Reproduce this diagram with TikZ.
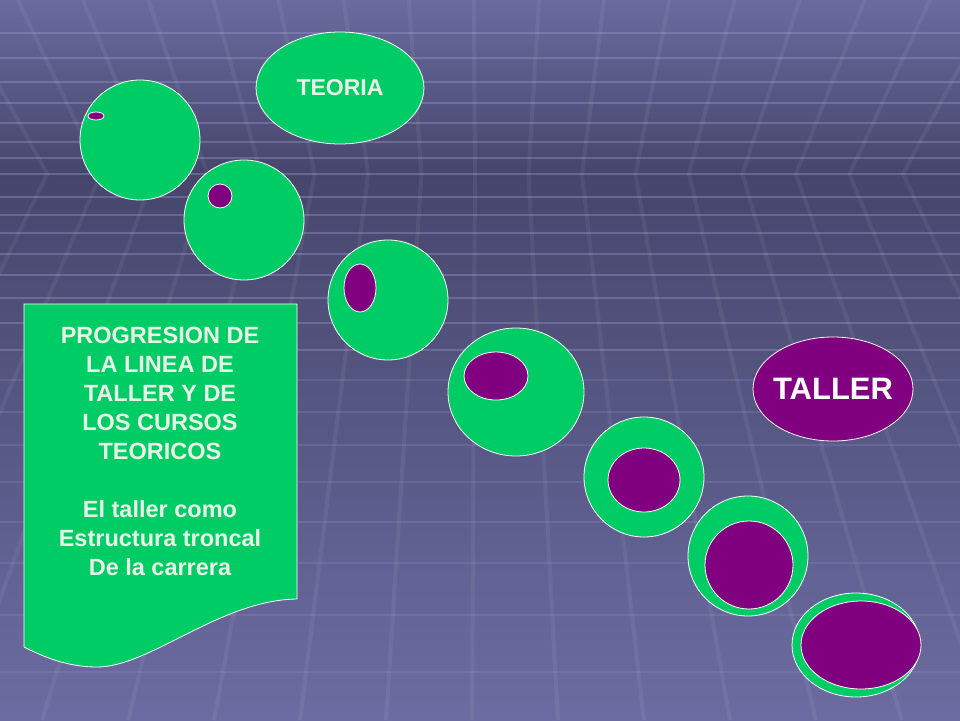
\documentclass[tikz,border=0pt]{standalone}
\usepackage{fontspec}
\setmainfont{Liberation Sans}
\usepackage{tikz}
\usetikzlibrary{shapes.geometric}

\definecolor{bgtop}{RGB}{106,106,158}
\definecolor{bghorizon}{RGB}{70,70,108}
\definecolor{bgmid}{RGB}{88,88,134}
\definecolor{bgbottom}{RGB}{108,108,162}
\definecolor{gridlight}{RGB}{150,150,204}
\definecolor{cgreen}{RGB}{0,204,102}
\definecolor{cpurple}{RGB}{128,0,128}
\definecolor{ctext}{RGB}{232,242,230}

\tikzset{
  gridline/.style={gridlight, line width=1.4pt, opacity=0.4},
  faintline/.style={gridlight, line width=1.4pt, opacity=0.22},
  rayline/.style={white, line width=4pt, opacity=0.06},
  bubble/.style={ellipse, draw=white, line width=0.8pt, fill=cgreen, inner sep=0pt},
  core/.style={ellipse, draw=white, line width=0.8pt, fill=cpurple, inner sep=0pt},
}

\begin{document}
\begin{tikzpicture}[x=1pt, y=-1pt]
  \useasboundingbox (0,0) rectangle (960,720);
  % background floor and ceiling
  \fill[top color=bgtop, bottom color=bghorizon] (0,0) rectangle (960,174);
  \fill[top color=bghorizon, middle color=bgmid, bottom color=bgbottom] (0,174) rectangle (960,720);
  \foreach \y in {33,58,82,103,123,142,158,174,197,215,233,254,275,298,323,350}
    \draw[gridline] (0,\y) -- (960,\y);
  \foreach \y in {380,412,445,482,522,563,615,672}
    \draw[faintline] (0,\y) -- (960,\y);
  \foreach \k in {0,...,16}{
    \pgfmathsetmacro{\xa}{47+53.5*\k}
    \pgfmathsetmacro{\su}{(\xa-480)/800}
    \pgfmathsetmacro{\sl}{(\xa-480)/900}
    \draw[rayline] ({\xa+\su*174},0) -- (\xa,174) -- ({\xa+\sl*546},720);
  }

  % text panel
  \fill[cgreen, draw=white, line width=0.8pt] (24,304) -- (297,304) -- (297,599)
    .. controls (220,600) and (150,667) .. (97,667)
    .. controls (65,667) and (40,655) .. (24,647) -- cycle;
  \node[align=center, anchor=north, inner sep=0pt, text=ctext, font=\bfseries\fontsize{23.5}{29}\selectfont] (paneltext) at (160,327)
    {PROGRESION DE\\LA LINEA DE\\TALLER Y DE\\LOS CURSOS\\TEORICOS\\[29pt]El taller como\\Estructura troncal\\De la carrera};

  % theory and workshop labels
  \node[bubble, minimum width=168pt, minimum height=112pt] (teoria) at (340,88) {};
  \node[text=ctext, font=\bfseries\fontsize{23}{28}\selectfont] (teoriatext) at (teoria.center) {TEORIA};
  \node[core, draw=white!85!pink, minimum width=160pt, minimum height=104pt] (taller) at (833,389) {};
  \node[text=white, font=\bfseries\fontsize{31}{36}\selectfont] (tallertext) at (taller.center) {TALLER};

  % progression of cells
  \node[bubble, minimum width=120pt, minimum height=120pt] (c1) at (140,140) {};
  \node[core, minimum width=16pt, minimum height=8pt] (n1) at (96,116) {};
  \node[bubble, minimum width=120pt, minimum height=120pt] (c2) at (244,220) {};
  \node[core, minimum width=24pt, minimum height=24pt] (n2) at (220,196) {};
  \node[bubble, minimum width=120pt, minimum height=120pt] (c3) at (388,300) {};
  \node[core, minimum width=32pt, minimum height=48pt] (n3) at (360,288) {};
  \node[bubble, minimum width=136pt, minimum height=128pt] (c4) at (516,392) {};
  \node[core, minimum width=64pt, minimum height=48pt] (n4) at (496,376) {};
  \node[bubble, minimum width=120pt, minimum height=120pt] (c5) at (644,477) {};
  \node[core, minimum width=72pt, minimum height=64pt] (n5) at (644,480) {};
  \node[bubble, minimum width=120pt, minimum height=120pt] (c6) at (748,556) {};
  \node[core, minimum width=88pt, minimum height=88pt] (n6) at (749,565) {};
  \node[bubble, minimum width=128pt, minimum height=104pt] (c7) at (856,645) {};
  \node[core, minimum width=120pt, minimum height=88pt] (n7) at (861,645) {};
\end{tikzpicture}
\end{document}
